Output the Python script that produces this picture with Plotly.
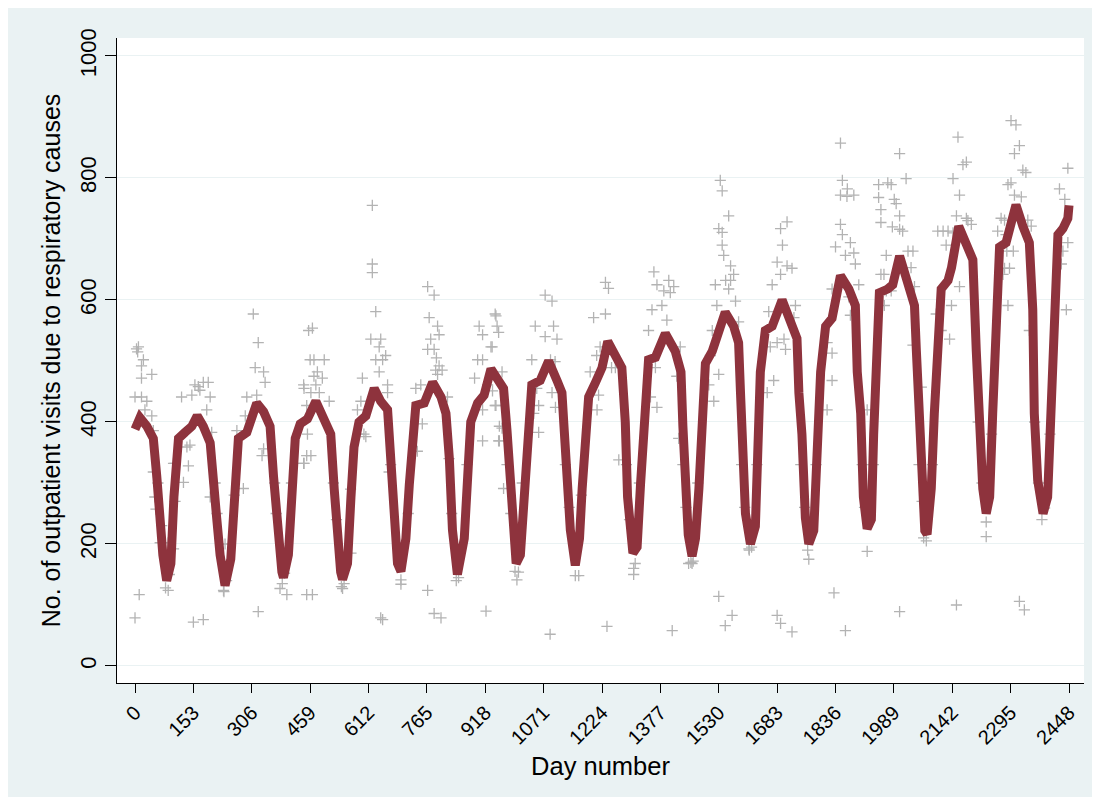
import plotly.graph_objects as go

# ---- data ----
x_ticks = [0, 153, 306, 459, 612, 765, 918, 1071, 1224, 1377, 1530, 1683, 1836, 1989, 2142, 2295, 2448]
y_ticks = [0, 200, 400, 600, 800, 1000]

line_days = [0, 13, 31, 48, 57, 64, 73, 83, 94, 102, 114, 131, 149, 163, 179, 197, 207, 214, 223, 236, 251, 262, 271,
             293, 306, 319, 337, 354, 363, 372, 385, 389, 402, 411, 420, 433, 452, 474, 496, 513, 522, 529, 539, 544,
             557, 566, 574, 587, 605, 627, 644, 662, 669, 675, 688, 697, 710, 719, 727, 736, 758, 780, 802, 815, 824,
             832, 845, 863, 872, 880, 898, 915, 933, 949, 966, 975, 982, 988, 999, 1010, 1019, 1027, 1040, 1062, 1084,
             1106, 1119, 1125, 1134, 1141, 1154, 1165, 1172, 1180, 1189, 1207, 1224, 1239, 1259, 1276, 1285, 1291,
             1305, 1316, 1325, 1335, 1346, 1364, 1390, 1416, 1431, 1436, 1443, 1450, 1460, 1469, 1478, 1486, 1495,
             1513, 1526, 1547, 1569, 1582, 1587, 1591, 1600, 1613, 1626, 1632, 1639, 1652, 1670, 1696, 1718, 1735,
             1740, 1748, 1757, 1766, 1779, 1788, 1797, 1810, 1827, 1849, 1871, 1888, 1893, 1902, 1909, 1919, 1930,
             1936, 1943, 1951, 1973, 1986, 2004, 2026, 2043, 2048, 2053, 2061, 2070, 2076, 2087, 2095, 2104, 2113,
             2131, 2140, 2159, 2179, 2196, 2205, 2213, 2222, 2231, 2240, 2248, 2257, 2266, 2283, 2296, 2309, 2327,
             2344, 2353, 2357, 2366, 2380, 2392, 2401, 2410, 2419, 2432, 2445, 2448]
line_vals = [388, 407, 393, 373, 311, 243, 182, 140, 168, 277, 373, 383, 393, 410, 393, 366, 311, 243, 182, 132, 175,
             277, 373, 383, 403, 431, 417, 393, 311, 236, 154, 145, 182, 277, 373, 397, 405, 434, 407, 380, 291, 216,
             154, 142, 168, 277, 359, 400, 410, 455, 434, 420, 352, 257, 168, 155, 209, 298, 380, 427, 431, 465, 441,
             414, 339, 223, 150, 209, 311, 400, 431, 444, 487, 472, 455, 386, 311, 223, 168, 182, 277, 380, 461, 468,
             500, 468, 448, 386, 311, 223, 165, 209, 291, 373, 441, 465, 489, 532, 509, 489, 400, 277, 185, 195, 298,
             427, 502, 506, 545, 516, 482, 393, 277, 215, 180, 209, 291, 393, 496, 516, 543, 580, 557, 530, 448, 359,
             250, 200, 229, 345, 482, 550, 557, 600, 564, 537, 448, 380, 243, 200, 222, 373, 482, 557, 570, 640, 618,
             591, 482, 414, 277, 225, 240, 380, 516, 612, 618, 625, 672, 625, 591, 516, 434, 304, 222, 216, 291, 414,
             509, 618, 632, 653, 721, 694, 666, 516, 400, 291, 250, 277, 414, 537, 687, 694, 721, 756, 721, 694, 584,
             414, 304, 250, 277, 414, 550, 707, 717, 734, 755]

scatter_days = [0, 11, 9, 4, 7, 22, 17, 44, 17, 0, 17, 31, 26, 44, 48, 48, 52, 55, 66, 87, 87, 101, 105, 122, 157, 166,
                179, 192, 170, 149, 188, 197, 136, 144, 140, 127, 101, 153, 179, 197, 201, 232, 236, 267, 284, 289, 310,
                323, 315, 337, 341, 293, 319, 337, 333, 323, 380, 398, 450, 442, 455, 459, 450, 442, 450,
                465, 469, 496, 478, 469, 491, 474, 443, 461, 483, 509, 452, 461, 443, 465, 544, 566, 583, 592, 596, 587,
                600, 605, 618, 622, 622, 622, 631, 644, 640, 631, 649, 657, 640, 662, 662, 644, 649, 666, 697, 697, 736,
                749, 753, 740, 767, 784, 771, 793, 797, 775, 767, 784, 790, 797, 788, 805, 793, 819, 767, 784, 802, 920,
                902, 911, 946, 933, 898, 911, 890, 924, 937, 911, 911, 955, 946, 955,
                944, 949, 953, 936, 962, 944, 962, 953, 966, 1001, 1005, 1049, 1040, 1053, 1058, 1045, 1058, 1075, 1093,
                1075, 1097, 1106, 1089, 1101, 1093, 1102, 1088, 1154, 1163, 1202, 1233, 1241, 1233, 1193, 1210, 1219,
                1249, 1259, 1215, 1211, 1268, 1237, 1307, 1307, 1311, 1360, 1368, 1399, 1412, 1386, 1403, 1355, 1381,
                1394, 1346, 1429, 1364, 1368, 1351, 1420, 1408, 1425, 1451,
                1460, 1530, 1547, 1565, 1534, 1539, 1556, 1530, 1539, 1539, 1543, 1561, 1569, 1561, 1548, 1556, 1521,
                1574, 1525, 1582, 1513, 1508, 1530, 1504, 1517, 1609, 1683, 1692, 1722, 1692, 1709, 1697, 1683, 1692,
                1709, 1722, 1670, 1661, 1731, 1727, 1665, 1683, 1701, 1705, 1674, 1657, 1766, 1832, 1862, 1849, 1854,
                1867, 1849, 1866, 1884, 1849, 1854, 1836, 1875, 1862, 1884, 1888, 1897, 1871, 1875, 1827, 1814, 1827,
                1827, 1814, 1919, 1949, 1949, 1919,
                2004, 2021, 1973, 1982, 1990, 1955, 1955, 1995, 2004, 1985, 2004, 2012, 1969, 2026, 2039, 1955, 1963,
                2034, 2043, 1969, 1982, 1964, 2039, 2061, 2074, 2004, 2157, 2179, 2170, 2144, 2161, 2153, 2179, 2183,
                2104, 2118, 2131, 2144, 2192, 2126, 2161, 2140, 2135, 2100, 2113, 2153, 2231, 2231, 2296, 2309, 2318,
                2305, 2327, 2335, 2288, 2296, 2305, 2323, 2270, 2279, 2340, 2261, 2283, 2349, 2285, 2302, 2279, 2292,
                2275, 2288, 2344, 2318, 2331, 2384, 2423, 2445, 2437, 2445, 2432, 2428, 2441,
                80, 90, 233, 240, 386, 392, 541, 548, 842, 848, 996, 1457, 1463, 1610, 1616, 1763, 2067, 2377,
                60, 70, 105, 210, 215, 260, 366, 370, 410, 520, 528, 565, 670, 716, 823, 830, 870, 975, 985, 1015, 1128,
                1138, 1170, 1288, 1296, 1322, 1436, 1444, 1475, 1590, 1598, 1630, 1745, 1755, 1785, 1906, 1912, 1935,
                2055, 2063, 2090, 2210, 2220, 2245, 2358, 2368, 2398]
scatter_vals = [79, 117, 523, 520, 515, 502, 492, 478, 472, 441, 441, 434, 420, 410, 386, 318, 277, 257, 202, 202, 124,
                192, 332, 441, 461, 458, 465, 465, 452, 444, 420, 441, 359, 362, 328, 301, 332, 72, 76, 277, 383, 124,
                200, 386, 291, 410, 577, 530, 489, 482, 465, 441, 444, 356, 345, 89, 127, 117, 117, 461, 550, 502, 427,
                332, 345,
                554, 502, 502, 482, 475, 472, 461, 455, 448, 448, 434, 380, 345, 332, 117, 127, 185, 420, 434, 472, 380,
                380, 376, 536, 659, 645, 755, 581, 536, 523, 502, 502, 509, 482, 461, 448, 79, 76, 318, 141, 134, 455,
                461, 397, 352, 622, 608, 571, 557, 543, 536, 519, 519, 505, 492, 485, 485, 478, 441, 124, 86, 79, 90,
                557, 543, 574, 523, 502, 502, 472, 461, 451, 420, 369, 369, 427, 393,
                577, 557, 547, 523, 482, 427, 390, 369, 291, 141, 154, 557, 502, 455, 427, 414, 383, 608, 598, 540, 557,
                536, 502, 499, 448, 424, 52, 148, 148, 571, 629, 619, 577, 482, 509, 523, 489, 489, 444, 420, 338, 65,
                150, 160, 168, 646, 625, 632, 622, 615, 612, 584, 591, 567, 550, 523, 489, 424, 441, 475, 58, 373, 168,
                168, 114, 66, 83, 796, 779, 738, 717, 711, 690, 673, 656, 642, 632, 632, 618, 625, 598, 591, 564, 550,
                509, 478, 461, 434, 192, 83, 70, 56, 717, 728, 690, 662, 642, 656, 652, 625, 581, 591, 571, 523, 530,
                536, 519, 468, 448, 175, 120, 58, 857, 796, 782, 772, 770, 772, 724, 707, 687, 694, 673, 677, 659, 625,
                605, 575, 618, 530, 513, 468, 420, 188, 789, 768, 420,
                840, 799, 792, 789, 765, 748, 727, 758, 738, 720, 716, 713, 673, 680, 680, 642, 642, 653, 622, 615, 615,
                591, 526, 457, 205, 89, 867, 826, 822, 799, 772, 738, 734, 730, 713, 713, 713, 710, 724, 690, 622, 591,
                536, 577, 550, 100, 212, 236, 894, 887, 853, 840, 813, 809, 789, 792, 772, 769, 734, 731, 731, 713, 707,
                721, 680, 680, 652, 652, 642, 591, 550, 106, 92, 259, 782, 816, 765, 694, 680, 659, 584,
                128, 150, 122, 140, 135, 152, 130, 135, 140, 145, 155, 170, 172, 190, 195, 190, 210, 240,
                300, 230, 270, 300, 250, 280, 300, 250, 300, 300, 240, 290, 330, 250, 340, 250, 330, 330, 250, 300, 330,
                260, 280, 330, 240, 300, 330, 260, 300, 330, 260, 330, 330, 260, 330, 330, 260, 330, 330, 270, 330, 400,
                300, 380, 400, 300, 380]

BG = "#EAF2F3"
FONT = "Arial, Liberation Sans, sans-serif"

fig = go.Figure()
fig.add_trace(go.Scatter(
    x=scatter_days, y=scatter_vals, mode="markers",
    marker=dict(symbol="cross-thin", size=8, color="#B3B3B3", line=dict(color="#B3B3B3", width=1.3)),
    showlegend=False, hoverinfo="skip"))
fig.add_trace(go.Scatter(
    x=line_days, y=line_vals, mode="lines",
    line=dict(color="#8E333D", width=9), showlegend=False))

fig.update_layout(
    width=1084, height=789,
    margin=dict(l=109, r=8, t=30, b=114),
    paper_bgcolor=BG, plot_bgcolor="white",
    font=dict(family=FONT, color="black"),
    xaxis=dict(
        range=[-47.2, 2487.3], tickmode="array", tickvals=x_ticks,
        ticktext=[str(v) for v in x_ticks],
        ticks="outside", ticklen=9, tickwidth=1.3, tickcolor="black",
        showline=True, linecolor="black", linewidth=1.3,
        showgrid=False, zeroline=False, tickangle=-45,
        tickfont=dict(size=20),
        title=dict(text="Day number", font=dict(size=25.5), standoff=9)),
    yaxis=dict(
        range=[-27.9, 1029.5], tickmode="array", tickvals=y_ticks,
        ticks="outside", ticklen=11, tickwidth=1.3, tickcolor="black",
        showline=True, linecolor="black", linewidth=1.3,
        showgrid=True, gridcolor=BG, gridwidth=1.2, zeroline=False,
        tickangle=-90, tickfont=dict(size=22),
        title=dict(text="No. of outpatient visits due to respiratory causes", font=dict(size=25), standoff=8)),
)

fig.write_html("out.html")
